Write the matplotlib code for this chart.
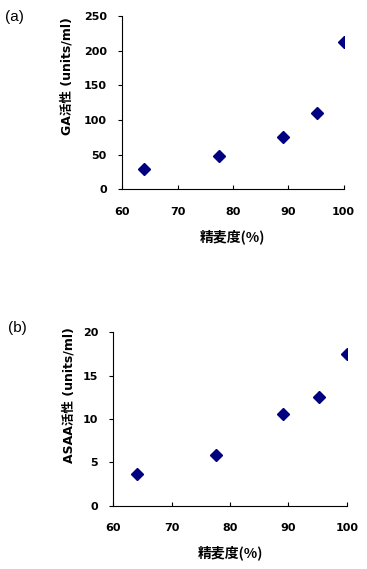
import matplotlib
matplotlib.use("Agg")
import matplotlib.pyplot as plt

plt.rcParams['font.family'] = ['DejaVu Sans', 'Noto Sans CJK JP']

# polishing ratio (%)
polish = [64, 77.5, 89, 95.2, 100]
# GA activity (units/ml)
ga_act = [30, 48, 76, 110, 213]
# ASAA activity (units/ml)
asaa_act = [3.7, 5.9, 10.6, 12.5, 17.5]

xticks = [60, 70, 80, 90, 100]
navy = "#000080"

fig = plt.figure(figsize=(3.67, 5.69), dpi=100)

panels = [
    # rect, y data, ylim, ystep, ylabel, label coords, panel letter, letter pos
    ([0.333, 0.667, 0.603, 0.305], ga_act, 250, 50, "GA活性 (units/ml)",
     (-0.25, 0.654), "(a)", (0.014, 0.983)),
    ([0.309, 0.111, 0.636, 0.305], asaa_act, 20, 5, "ASAA活性 (units/ml)",
     (-0.19, 0.64), "(b)", (0.022, 0.435)),
]

for rect, yvals, ymax, ystep, ylabel, lab_xy, letter, let_xy in panels:
    ax = fig.add_axes(rect)
    ax.plot(polish, yvals, linestyle="none", marker="D", ms=6.4,
            color=navy, markeredgecolor=navy)
    ax.set_xlim(60, 100)
    ax.set_ylim(0, ymax)
    ax.set_xticks(xticks)
    ax.set_yticks(range(0, ymax + 1, ystep))
    ax.spines['top'].set_visible(False)
    ax.spines['right'].set_visible(False)
    ax.spines['left'].set_linewidth(0.8)
    ax.spines['bottom'].set_linewidth(0.8)
    ax.tick_params(axis='x', direction='in', length=3, width=0.8, pad=12.5,
                   labelsize=8)
    ax.tick_params(axis='y', direction='out', length=3, width=0.8, pad=8,
                   labelsize=8)
    for lbl in ax.get_xticklabels() + ax.get_yticklabels():
        lbl.set_fontweight('bold')
    ax.set_xlabel("精麦度(%)", fontsize=10, fontweight='bold', labelpad=9,
                  family=['Noto Sans CJK JP', 'DejaVu Sans'])
    ax.set_ylabel(ylabel, fontsize=9, fontweight='bold', va='center')
    ax.yaxis.set_label_coords(*lab_xy)
    fig.text(let_xy[0], let_xy[1], letter, fontsize=11, ha='left', va='top',
             family='Liberation Sans')

fig.savefig("out.png", dpi=100)
